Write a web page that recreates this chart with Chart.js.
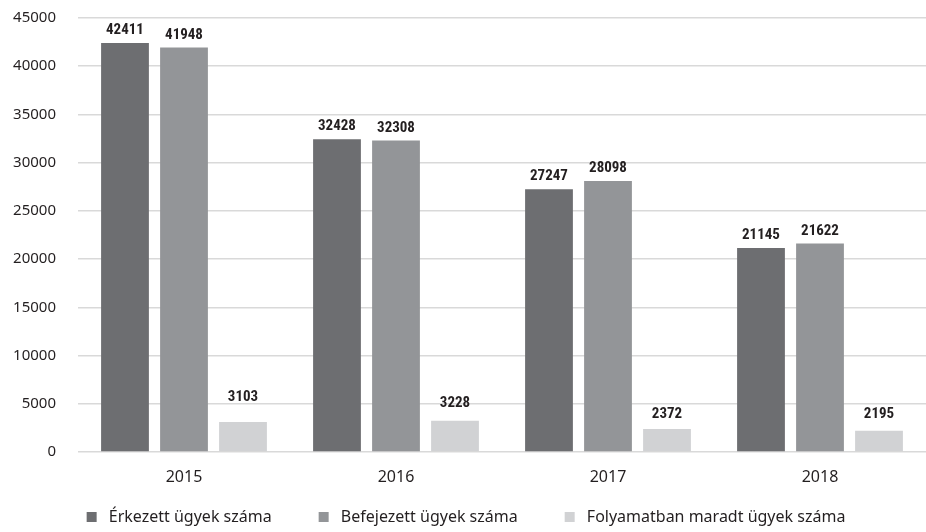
<!DOCTYPE html>
<html>
<head>
<meta charset="utf-8">
<script src="https://cdn.jsdelivr.net/npm/chart.js@4"></script>
<style>
  html, body { margin: 0; padding: 0; background: #fff; }
  #wrap { width: 926px; height: 532px; }
</style>
</head>
<body>
<div id="wrap"><canvas id="ugyekChart"></canvas></div>
<script>
// Years on the x axis
const years = ['2015', '2016', '2017', '2018'];

// Case counts per year
const erkezett = [42411, 32428, 27247, 21145];
const befejezett = [41948, 32308, 28098, 21622];
const folyamatban = [3103, 3228, 2372, 2195];

const seriesNames = ['Érkezett ügyek száma', 'Befejezett ügyek száma', 'Folyamatban maradt ügyek száma'];
const seriesColors = ['#6d6e71', '#939598', '#d1d2d4'];

// gap between label and bar top, the small bars have their labels a bit higher
const labelGap = [[5, 5, 5, 5], [5, 5, 5, 5], [17, 10, 7, 9]];

// Simple plugin to write the value above each bar
const valueLabels = {
    id: 'valueLabels',
    afterDatasetsDraw(chart) {
        const ctx = chart.ctx;
        ctx.save();
        ctx.font = 'bold 15px "Liberation Sans Narrow", "Roboto Condensed", sans-serif';
        ctx.fillStyle = '#231f20';
        ctx.textAlign = 'center';
        ctx.textBaseline = 'bottom';
        chart.data.datasets.forEach((ds, i) => {
            const meta = chart.getDatasetMeta(i);
            meta.data.forEach((bar, j) => {
                ctx.fillText(ds.data[j], bar.x, bar.y - labelGap[i][j]);
            });
        });
        ctx.restore();
    }
};

// Legend box a little shorter than Chart.js makes it
const legendHeight = {
    id: 'legendHeight',
    beforeInit(chart) {
        const fitLegend = chart.legend.fit;
        chart.legend.fit = function () {
            fitLegend.bind(chart.legend)();
            this.height = 45;
        };
    }
};

const ctx = document.getElementById('ugyekChart').getContext('2d');
new Chart(ctx, {
    type: 'bar',
    data: {
        labels: years,
        datasets: [
            { label: seriesNames[0], data: erkezett, backgroundColor: seriesColors[0] },
            { label: seriesNames[1], data: befejezett, backgroundColor: seriesColors[1] },
            { label: seriesNames[2], data: folyamatban, backgroundColor: seriesColors[2] }
        ]
    },
    plugins: [valueLabels, legendHeight],
    options: {
        responsive: true,
        maintainAspectRatio: false,
        animation: false,
        layout: { padding: { top: 8, right: 0, left: 6, bottom: 0 } },
        datasets: {
            bar: { categoryPercentage: 0.835, barPercentage: 0.81 }
        },
        scales: {
            x: {
                grid: { display: false, drawTicks: false },
                border: { display: false },
                ticks: { color: '#231f20', font: { size: 16, family: '"Noto Sans", sans-serif' }, padding: 16 },
                afterFit(scale) { scale.height = 35; }
            },
            y: {
                min: 0,
                max: 45000,
                ticks: {
                    stepSize: 5000,
                    color: '#231f20',
                    padding: 22,
                    font: { size: 15, family: '"Noto Sans", sans-serif' },
                    callback: value => value
                },
                grid: { color: '#d9d9d9', lineWidth: 1.5, drawTicks: false },
                border: { display: false },
                // tick padding should only push labels left, not down/up
                afterFit(scale) {
                    scale.width = 72;
                    scale.paddingTop = 18;
                    scale.paddingBottom = 10;
                }
            }
        },
        plugins: {
            legend: {
                position: 'bottom',
                labels: {
                    boxWidth: 10,
                    boxHeight: 10,
                    padding: 22,
                    color: '#231f20',
                    font: { size: 16, family: '"Noto Sans", sans-serif' },
                    // a bit more room around each text, like the original
                    generateLabels(chart) {
                        const items = Chart.defaults.plugins.legend.labels.generateLabels(chart);
                        items.forEach((it, i) => {
                            it.text = '\u00a0' + it.text;
                            if (i < items.length - 1) it.text += '\u00a0\u00a0\u00a0\u00a0\u00a0\u00a0';
                        });
                        return items;
                    }
                }
            },
            tooltip: { enabled: false }
        }
    }
});
</script>
</body>
</html>
